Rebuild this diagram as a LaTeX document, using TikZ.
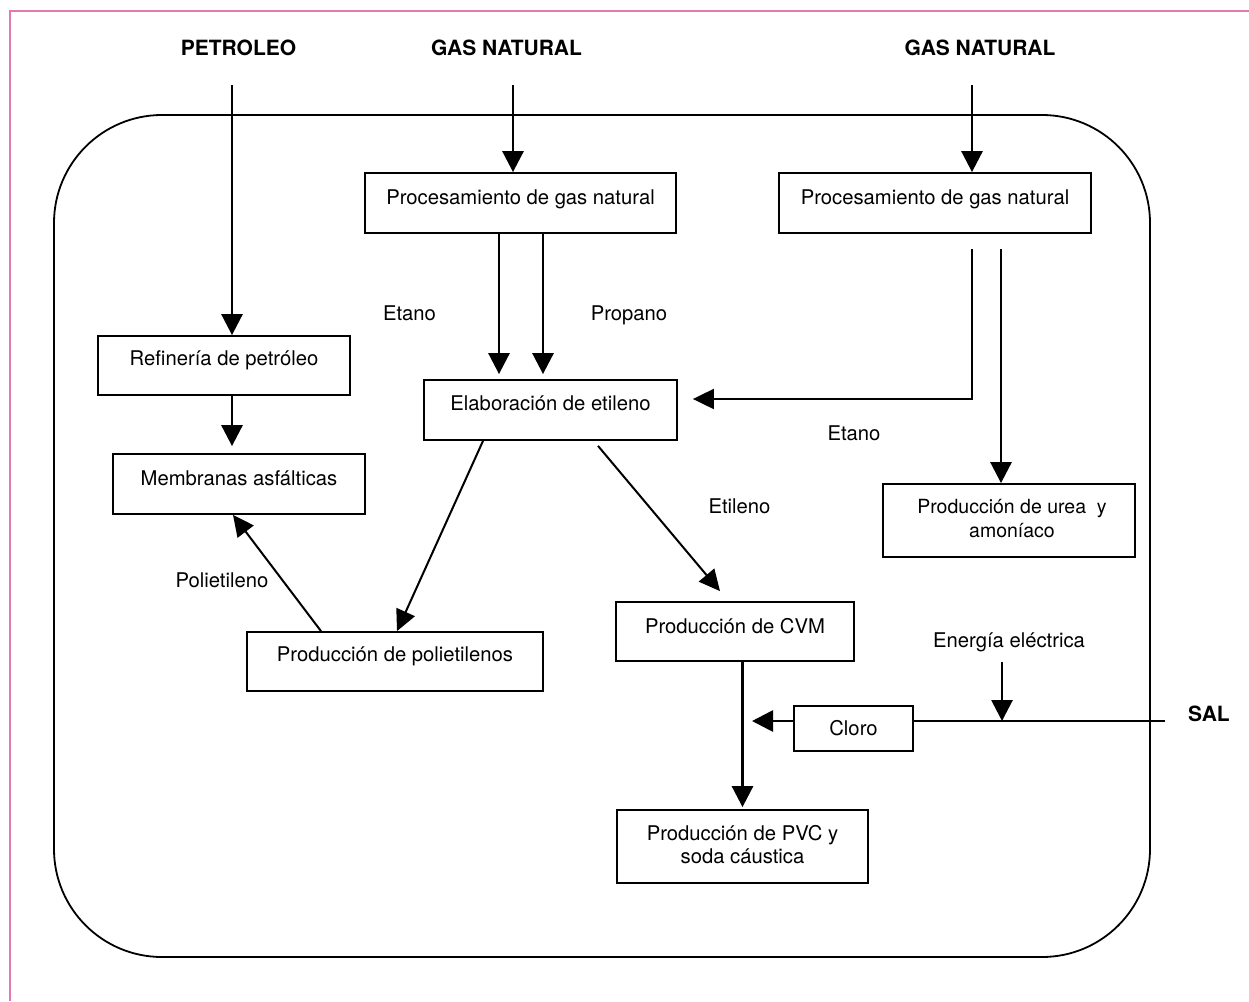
\documentclass[tikz,border=0pt]{standalone}
\usepackage{fontspec}
\setmainfont{TeX Gyre Heros}
\usetikzlibrary{arrows.meta}
\definecolor{pinkframe}{RGB}{228,120,178}
\tikzset{
  box/.style={draw, line width=1.8pt, inner sep=0pt},
  txt/.style={anchor=base, inner sep=0pt, font=\fontsize{20.25}{23}\selectfont, align=center},
  ttl/.style={anchor=base, inner sep=0pt, font=\fontsize{21}{24}\selectfont\bfseries},
  arr/.style={line width=2.8pt, -{Triangle[length=21pt,width=21pt]}},
  tarr/.style={line width=2pt, -{Triangle[length=21pt,width=20pt]}},
  plain/.style={line width=2.8pt}
}
\begin{document}
\begin{tikzpicture}[x=1pt,y=-1pt]
\useasboundingbox (0,0) rectangle (1249,1001);
% page frame
\draw[pinkframe, line width=1.5pt] (10,1001) -- (10,11) -- (1249,11);
% big rounded frame
\node[draw, line width=1.8pt, rounded corners=108pt, minimum width=1096pt, minimum height=842pt, inner sep=0pt] (frame) at (602,536) {};

% boxes
\node[box, minimum width=311pt, minimum height=60pt] (proc1) at (520.5,203) {};
\node[box, minimum width=312pt, minimum height=60pt] (proc2) at (935,203) {};
\node[box, minimum width=252pt, minimum height=59pt] (ref) at (224,365.5) {};
\node[box, minimum width=252pt, minimum height=60pt] (memb) at (239,484) {};
\node[box, minimum width=253pt, minimum height=60pt] (elab) at (550.5,410) {};
\node[box, minimum width=252pt, minimum height=73pt] (urea) at (1009,520.5) {};
\node[box, minimum width=238pt, minimum height=59pt] (cvm) at (735,631.5) {};
\node[box, minimum width=296pt, minimum height=59pt] (poli) at (395,661.5) {};
\node[box, minimum width=119pt, minimum height=45pt] (cloro) at (853.5,728.5) {};
\node[box, minimum width=251pt, minimum height=73pt] (pvc) at (742.5,846.5) {};

% box texts
\node[txt] (proc1t) at (520.5,204) {Procesamiento de gas natural};
\node[txt] (proc2t) at (935,204) {Procesamiento de gas natural};
\node[txt] (reft) at (224,365) {Refinería de petróleo};
\node[txt] (membt) at (239,485) {Membranas asfálticas};
\node[txt] (elabt) at (550.5,410.5) {Elaboración de etileno};
\node[txt, font=\fontsize{19.5}{24}\selectfont] (ureat) at (1012,537) {Producción de urea\ \ y\\amoníaco};
\node[txt] (cvmt) at (735,633) {Producción de CVM};
\node[txt] (polit) at (395,661.5) {Producción de polietilenos};
\node[txt] (clorot) at (853.5,735.5) {Cloro};
\node[txt] (pvct) at (742.5,863) {Producción de PVC y\\soda cáustica};

% titles
\node[ttl] (pet) at (238.5,55) {PETROLEO};
\node[ttl] (gas1) at (506.5,55) {GAS NATURAL};
\node[ttl] (gas2) at (980,55) {GAS NATURAL};
\node[ttl] (sal) at (1209,721.5) {SAL};

% labels
\node[txt] (etano1) at (409.5,320) {Etano};
\node[txt] (propano) at (629,320) {Propano};
\node[txt] (etano2) at (854,440) {Etano};
\node[txt] (etileno) at (739.5,513) {Etileno};
\node[txt] (polieti) at (222,587) {Polietileno};
\node[txt] (energia) at (1009,647) {Energía eléctrica};

% free ends
\coordinate (cpet) at (232,85);
\coordinate (cgas1) at (513,85);
\coordinate (cgas2) at (972,85);
\coordinate (p2e) at (972,249);
\coordinate (p2u) at (1001,249);
\coordinate (p2c) at (972,399);
\coordinate (csal) at (1165,721);
\coordinate (cene) at (1002,662);
\coordinate (clt) at (752,721);

% connectors
\draw[arr] (cpet) -- (cpet |- ref.north);
\draw[arr] (cgas1) -- (cgas1 |- proc1.north);
\draw[arr] (cgas2) -- (cgas2 |- proc2.north);
\draw[arr, shorten >=5pt] ([shift={(-21.5,0)}]proc1.south) -- ([shift={(-21.5,0)}]proc1.south |- elab.north);
\draw[arr, shorten >=5pt] ([shift={(22.5,0)}]proc1.south) -- ([shift={(22.5,0)}]proc1.south |- elab.north);
\draw[tarr, shorten >=15pt] (p2e) -- (p2c) -- (elab.east |- p2c);
\draw[arr] (p2u) -- (p2u |- urea.north);
\draw[arr, shorten >=7pt] (cpet |- ref.south) -- (cpet |- memb.north);
\draw[tarr] ([shift={(-67.5,0)}]elab.south) -- ([shift={(2,0)}]poli.north);
\draw[tarr] ([shift={(47.5,5)}]elab.south) -- ([shift={(-15,-10)}]cvm.north);
\draw[tarr] ([shift={(-74,0)}]poli.north) -- ([shift={(-6,0)}]memb.south);
\draw[arr, shorten >=2pt] (cvm.south -| pvc.north) -- (pvc.north);
\draw[arr] (cloro.west |- csal) -- (clt);
\draw[plain] (csal) -- (cloro.east |- csal);
\draw[arr] (cene) -- (cene |- csal);
\end{tikzpicture}
\end{document}
